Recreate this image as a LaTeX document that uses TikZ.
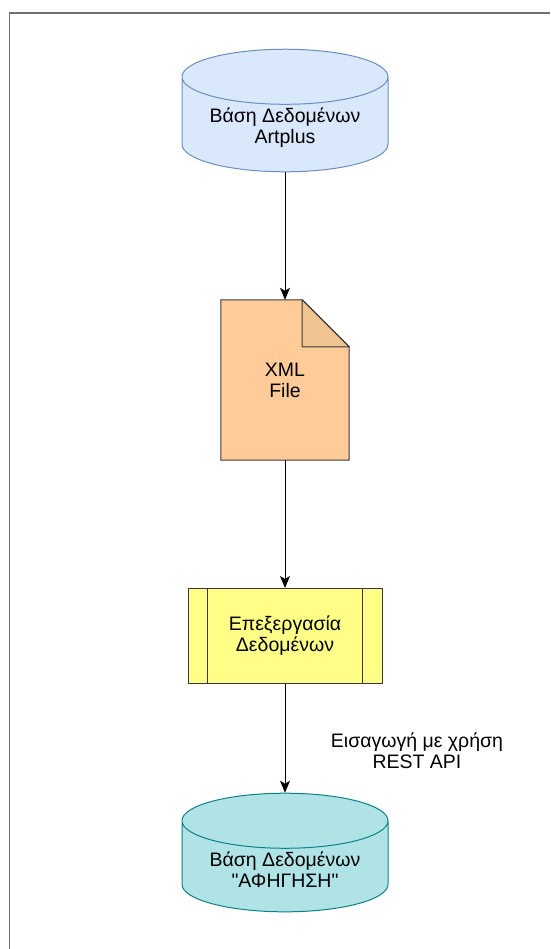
\documentclass[tikz,border=0pt]{standalone}
\usepackage{fontspec}
\setmainfont{Liberation Sans}[Ligatures=TeXOff]
\usetikzlibrary{shapes.geometric, arrows.meta, positioning, calc}

\definecolor{dbblue}{HTML}{DAE8FC}
\definecolor{dbbluedraw}{HTML}{6C8EBF}
\definecolor{docfill}{HTML}{FFCC99}
\definecolor{docfold}{HTML}{F0C490}
\definecolor{darkline}{HTML}{36393D}
\definecolor{procfill}{HTML}{FFFF88}
\definecolor{dbteal}{HTML}{B0E3E6}
\definecolor{dbtealdraw}{HTML}{0E8088}
\definecolor{framegray}{HTML}{707070}

\begin{document}
\begin{tikzpicture}[
  x=1pt, y=-1pt,
  font=\fontsize{19.5}{21}\selectfont,
  db/.style={draw, cylinder, shape border rotate=90, aspect=0.35,
             minimum width=206pt, minimum height=115pt, align=center,
             line width=1pt, cylinder uses custom fill},
  docbox/.style={minimum width=128pt, minimum height=160pt, align=center,
                 inner sep=0pt},
  proc/.style={draw=darkline, fill=procfill, minimum width=194pt,
               minimum height=95pt, align=center, line width=1pt},
  arr/.style={-{Stealth[length=12pt, width=10pt, inset=3pt]}, line width=1pt}
]
\useasboundingbox (0,0) rectangle (550,949);
\draw[framegray, line width=1.5pt] (9.5,949) -- (9.5,13) -- (550,13);

\node[db, draw=dbbluedraw, cylinder body fill=dbblue, cylinder end fill=dbblue]
  (artplus) at (285,128) {Βάση Δεδομένων\\Artplus};
\node[docbox] (xml) at (285,380) {};
\draw[darkline, fill=docfill, line width=1pt]
  (xml.north west) -- ([xshift=-47pt]xml.north east)
  -- ([yshift=-47pt]xml.north east) -- (xml.south east)
  -- (xml.south west) -- cycle;
\draw[darkline, fill=docfold, line width=1pt, line join=round]
  ([xshift=-47pt]xml.north east) -- ([xshift=-47pt, yshift=-47pt]xml.north east)
  -- ([yshift=-47pt]xml.north east) -- cycle;
\node[align=center] (xmltext) at (xml) {XML\\File};
\node[proc] (parse) at (285,636) {Επεξεργασία\\Δεδομένων};
\draw[darkline, line width=1pt]
  ([xshift=20pt]parse.north west) -- ([xshift=20pt]parse.south west)
  ([xshift=-20pt]parse.north east) -- ([xshift=-20pt]parse.south east);
\node[db, draw=dbtealdraw, cylinder body fill=dbteal, cylinder end fill=dbteal]
  (afigisi) at (285,870) {Βάση Δεδομένων\\"ΑΦΗΓΗΣΗ"};

\draw[arr] (artplus) -- (xml);
\draw[arr] (xml) -- (parse);
\draw[arr] (parse) -- (afigisi);
\node[align=center] (restlabel) at (417,751) {Εισαγωγή με χρήση\\REST API};
\end{tikzpicture}
\end{document}
